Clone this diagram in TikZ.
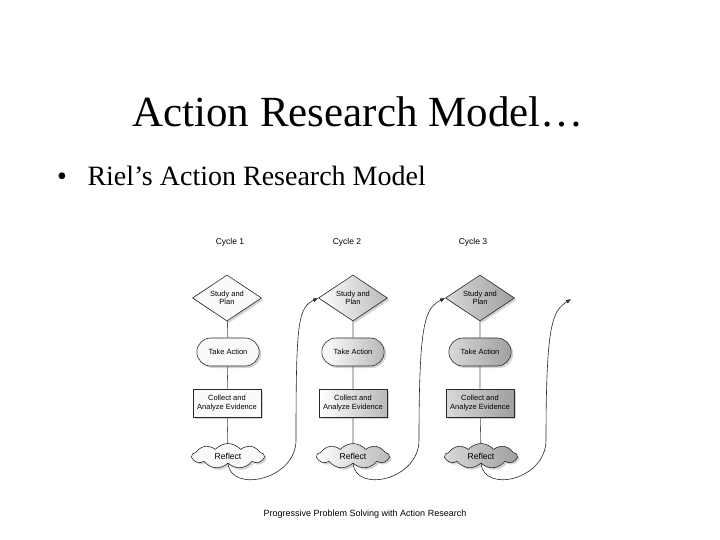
\documentclass[tikz,border=0pt]{standalone}
\usepackage{fontspec}
\setmainfont{Liberation Serif}
\newfontfamily\chartfont{Liberation Sans}
\usetikzlibrary{arrows.meta,positioning,shapes.geometric,shapes.misc,shapes.symbols,shadows}
\definecolor{RielInk}{RGB}{40,40,40}
\definecolor{RielLine}{RGB}{80,80,80}

\begin{document}
\begin{tikzpicture}[x=1pt,y=-1pt, every node/.style={font=\chartfont\fontsize{7.5}{8.4}\selectfont}, shadowed/.style={drop shadow={opacity=0.35,shadow xshift=2pt,shadow yshift=-2pt}}, plan/.style={diamond,aspect=1.5,draw=RielInk,line width=0.6pt,align=center,inner sep=0pt,minimum width=69pt,minimum height=46pt,shadowed}, act/.style={rounded rectangle,draw=RielInk,line width=0.6pt,minimum width=69pt,minimum height=28pt,shadowed}, evid/.style={rectangle,draw=RielInk,line width=0.6pt,align=center,minimum width=68pt,minimum height=28pt,shadowed}, refl/.style={cloud,cloud puffs=9,cloud puff arc=100,aspect=3,draw=RielInk,line width=0.6pt,minimum width=72pt,minimum height=25pt,inner sep=1pt,font=\chartfont\fontsize{8.6}{10}\selectfont,shadowed}, tone1/.style={fill=gray!4}, tone2/.style={left color=white,right color=gray!55}, tone3/.style={left color=gray!30,right color=gray!75}, cyc/.style={font=\chartfont\fontsize{8.5}{10}\selectfont}, link/.style={RielLine,line width=0.6pt}, nextarr/.style={-{Latex[length=5pt,width=4pt]},RielInk,line width=0.6pt}]
\useasboundingbox (0,0) rectangle (720,540);
% slide heading
\node[font=\fontsize{43}{50}\selectfont,anchor=base] (title) at (358,127) {Action Research Model…};
\node[font=\fontsize{28}{32}\selectfont,anchor=base] (bullet) at (62,186) {•};
\node[font=\fontsize{28}{32}\selectfont,anchor=base west] (point) at (84,186) {Riel’s Action Research Model};
% cycle 1
\node[cyc] (l1) at (230,242) {Cycle 1};
\node[plan,tone1] (p1) at (227,298) {Study and\\Plan};
\node[act,tone1] (a1) at (228,352) {Take Action};
\node[evid,tone1] (c1) at (227,403) {Collect and\\Analyze Evidence};
\node[refl,tone1] (r1) at (228,456) {Reflect};
% cycle 2
\node[cyc] (l2) at (347,242) {Cycle 2};
\node[plan,tone2] (p2) at (353,298) {Study and\\Plan};
\node[act,tone2] (a2) at (353,352) {Take Action};
\node[evid,tone2] (c2) at (353,403) {Collect and\\Analyze Evidence};
\node[refl,tone2] (r2) at (353,456) {Reflect};
% cycle 3
\node[cyc] (l3) at (473,242) {Cycle 3};
\node[plan,tone3] (p3) at (480,298) {Study and\\Plan};
\node[act,tone3] (a3) at (480,352) {Take Action};
\node[evid,tone3] (c3) at (480,403) {Collect and\\Analyze Evidence};
\node[refl,tone3] (r3) at (481,456) {Reflect};
\draw[link] (p1)--(a1)--(c1)--(r1); \draw[link] (p2)--(a2)--(c2)--(r2); \draw[link] (p3)--(a3)--(c3)--(r3);
% turns between cycles
\coordinate (k1) at (296,440); \coordinate (k2) at (419,440); \coordinate (k3) at (546,440); \coordinate (e3) at (571,299);
\draw[nextarr] (r1.south) .. controls +(3,30) and +(0,40) .. (k1) .. controls +(0,-120) and +(-20,10) .. (p2.west);
\draw[nextarr] (r2.south) .. controls +(3,30) and +(0,40) .. (k2) .. controls +(0,-120) and +(-20,10) .. (p3.west);
\draw[nextarr] (r3.south) .. controls +(3,30) and +(0,40) .. (k3) .. controls +(0,-120) and +(-18,12) .. (e3);
\node[font=\chartfont\fontsize{9}{10}\selectfont] (caption) at (365,514) {Progressive Problem Solving with Action Research};
\end{tikzpicture}
\end{document}
